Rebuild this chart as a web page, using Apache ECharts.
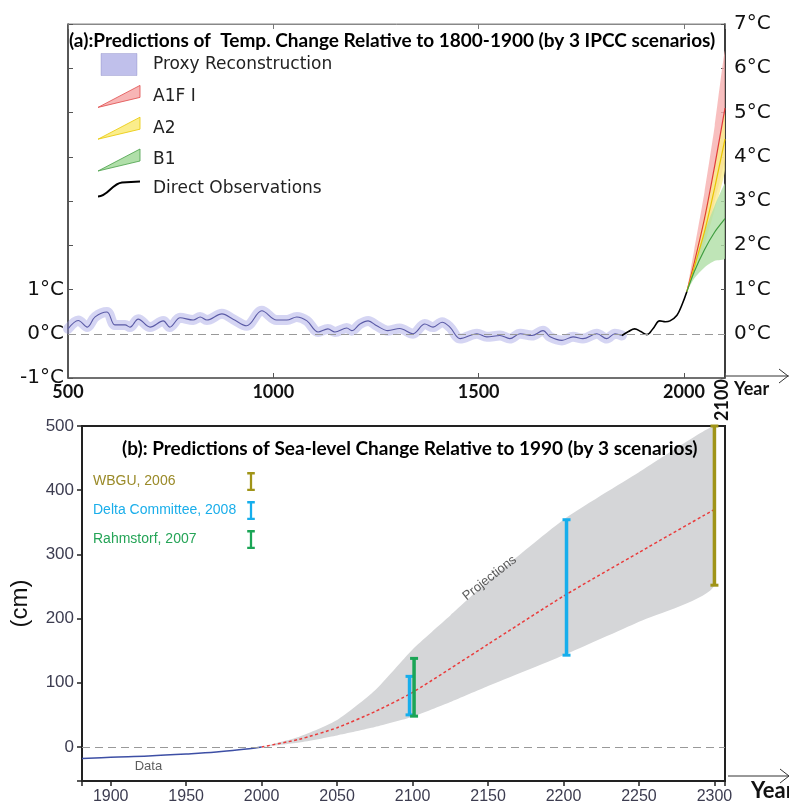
<!DOCTYPE html>
<html>
<head>
<meta charset="utf-8">
<title>Temperature and sea-level predictions</title>
<script src="https://cdn.jsdelivr.net/npm/echarts@6.0.0/dist/echarts.min.js"></script>
<style>
  html, body { margin: 0; padding: 0; background: #fff; }
  #chart { width: 789px; height: 806px; }
</style>
</head>
<body>
<div id="chart"></div>
<script>
// ---- (a) temperature change, degC relative to 1800-1900 ----
const proxyYears = [500, 525, 547, 566, 595, 614, 639, 651, 671, 700, 732, 748, 773, 805, 822, 838, 875, 902, 935, 972,
  1008, 1033, 1057, 1082, 1109, 1133, 1150, 1179, 1191, 1211, 1231, 1252, 1279, 1308, 1340, 1369, 1389, 1411, 1430,
  1455, 1496, 1520, 1552, 1576, 1601, 1630, 1657, 1674, 1703, 1730, 1754, 1788, 1812, 1832, 1849];
const proxyTemps = [0.11, 0.3, 0.15, 0.38, 0.49, 0.2, 0.2, 0.15, 0.33, 0.15, 0.29, 0.15, 0.36, 0.31, 0.38, 0.31, 0.45, 0.33, 0.18, 0.52,
  0.31, 0.31, 0.38, 0.29, 0.04, 0.11, 0.04, 0.13, 0.07, 0.22, 0.29, 0.18, 0.07, 0.12, 0, 0.22, 0.15, 0.26, 0.15,
  -0.11, 0, -0.07, -0.04, -0.11, 0, -0.04, 0.07, -0.07, -0.15, -0.07, -0.11, 0, -0.11, 0, -0.04];
const obsYears = [1849, 1865, 1880, 1895, 1910, 1925, 1941, 1955, 1966, 1983, 1995, 2007];
const obsTemps = [-0.04, 0.05, 0.11, 0.05, -0.02, 0.12, 0.29, 0.27, 0.29, 0.42, 0.65, 0.95];

const projYears = [2007, 2025, 2050, 2075, 2100];
const a1fiMid = [0.95, 1.6, 2.6, 3.8, 5.1];
const a1fiLow = [0.95, 1.4, 2.1, 3.0, 4.0];
const a1fiHigh = [0.95, 1.9, 3.2, 4.7, 6.4];
const a2Mid = [0.95, 1.5, 2.3, 3.3, 4.4];
const a2Low = [0.95, 1.35, 2.0, 2.8, 3.7];
const a2High = [0.95, 1.7, 2.7, 3.8, 5.0];
const b1Mid = [0.95, 1.4, 1.9, 2.3, 2.6];
const b1Low = [0.95, 1.25, 1.5, 1.65, 1.7];
const b1High = [0.95, 1.55, 2.3, 2.9, 3.4];

// ---- (b) sea-level change, cm relative to 1990 ----
const seaYears = [1881, 1900, 1925, 1950, 1970, 1985, 2000];
const seaCm = [-18, -16, -14, -11, -8, -4.5, 0];
const bandYears = [2000, 2025, 2050, 2075, 2100, 2125, 2150, 2200, 2250, 2300];
const bandLow = [0, 7, 18, 31, 47, 70, 95, 143, 195, 252];
const bandHigh = [0, 16, 42, 88, 152, 205, 258, 354, 428, 500];
const midYears = [2000, 2025, 2050, 2075, 2100, 2150, 2200, 2250, 2300];
const midCm = [0, 12, 30, 55, 85, 160, 235, 303, 370];
// [year, low, high]
const wbguBars = [[2300, 252, 500]];
const deltaBars = [[2098, 50, 110], [2202, 143, 354]];
const rahmBars = [[2101, 48, 138]];
const noteTexts = ['Data', 'Projections'];
const noteYears = [1925, 2151];
const noteCm = [-31, 263];
const noteRotate = [0, 38];

const SANS = 'Liberation Sans, Arial, sans-serif';
const WIDE = 'DejaVu Sans, sans-serif';
const BOLD = 'Lato, Open Sans, sans-serif';

function pairs(xs, ys) {
  return xs.map((x, i) => [x, ys[i]]);
}

// filled range between low and high, drawn once as a polygon through the axes
function band(name, years, low, high, fill, xi, yi, z) {
  return {
    name: name, type: 'custom', xAxisIndex: xi, yAxisIndex: yi, z: z, silent: true, clip: true,
    data: years.map((y, i) => [y, low[i], high[i]]),
    encode: { x: 0, y: [1, 2] },
    renderItem: function (params, api) {
      if (params.dataIndex !== 0) return null;
      const top = years.map((y, i) => api.coord([y, high[i]]));
      const bot = years.map((y, i) => api.coord([y, low[i]])).reverse();
      const pts = top.concat(bot);
      const xs = pts.map((p) => p[0]);
      const ys = pts.map((p) => p[1]);
      return {
        type: 'polygon',
        shape: {
          points: pts, smooth: 0.2,
          smoothConstraint: [[Math.min(...xs), Math.min(...ys)], [Math.max(...xs), Math.max(...ys)]],
        },
        style: { fill: fill },
      };
    },
  };
}

function errorBar(params, api) {
  const top = api.coord([api.value(0), api.value(2)]);
  const bot = api.coord([api.value(0), api.value(1)]);
  const color = api.visual('color');
  const cap = 4;
  return {
    type: 'group',
    children: [
      { type: 'line', shape: { x1: top[0], y1: top[1], x2: bot[0], y2: bot[1] }, style: { stroke: color, lineWidth: 3.5 } },
      { type: 'line', shape: { x1: top[0] - cap, y1: top[1], x2: top[0] + cap, y2: top[1] }, style: { stroke: color, lineWidth: 3 } },
      { type: 'line', shape: { x1: bot[0] - cap, y1: bot[1], x2: bot[0] + cap, y2: bot[1] }, style: { stroke: color, lineWidth: 3 } },
    ],
  };
}

const wedge = 'path://M0,22L42,0L42,12Z';
const ibeam = 'path://M0,0H8V2.5H5.2V17.5H8V20H0V17.5H2.8V2.5H0Z';

var myChart = echarts.init(document.getElementById('chart'));

var option = {
  animation: false,
  backgroundColor: '#fff',
  title: [
    {
      text: '(a):Predictions of  Temp. Change Relative to 1800-1900 (by 3 IPCC scenarios)',
      left: 64, top: 26,
      textStyle: { fontFamily: BOLD, fontWeight: 'bold', fontSize: 19, color: '#000' },
    },
    {
      text: '(b): Predictions of Sea-level Change Relative to 1990 (by 3 scenarios)',
      left: 117, top: 434,
      textStyle: { fontFamily: BOLD, fontWeight: 'bold', fontSize: 19, color: '#000' },
    },
  ],
  legend: [
    {
      orient: 'vertical', left: 92, top: 48, itemWidth: 42, itemHeight: 22, itemGap: 9,
      selectedMode: false,
      textStyle: { fontFamily: WIDE, fontSize: 17, color: '#222', padding: [0, 0, 0, 8] },
      data: [
        { name: 'Proxy Reconstruction', icon: 'path://M0,0H36V22H0Z', itemStyle: { color: 'rgba(130,130,215,0.5)', borderColor: 'rgba(90,90,170,0.25)', borderWidth: 1 } },
        { name: 'A1F I', icon: wedge, itemStyle: { color: 'rgba(243,150,150,0.7)', borderColor: '#e04a4a', borderWidth: 0.8 } },
        { name: 'A2', icon: wedge, itemStyle: { color: 'rgba(250,232,110,0.8)', borderColor: '#e8c800', borderWidth: 0.8 } },
        { name: 'B1', icon: wedge, itemStyle: { color: 'rgba(150,212,140,0.75)', borderColor: '#48a048', borderWidth: 0.8 } },
        { name: 'Direct Observations', icon: 'path://M0,18C10,18 14,5 24,4L42,3', itemStyle: { color: 'transparent', borderColor: '#000', borderWidth: 2 } },
      ],
    },
    {
      orient: 'vertical', left: 88, top: 467, itemWidth: 8, itemHeight: 19, itemGap: 10, align: 'right',
      selectedMode: false,
      formatter: (name) => '{t|' + name + '}',
      textStyle: { fontFamily: SANS, fontSize: 14, rich: { t: { width: 149, align: 'left', fontFamily: SANS, fontSize: 14 } } },
      data: [
        { name: 'WBGU, 2006', icon: ibeam, textStyle: { color: '#9a8a28' } },
        { name: 'Delta Committee, 2008', icon: ibeam, textStyle: { color: '#1aaeea' } },
        { name: 'Rahmstorf, 2007', icon: ibeam, textStyle: { color: '#25a457' } },
      ],
    },
  ],
  grid: [
    { left: 68, top: 24, width: 657, height: 354, show: true, borderColor: '#888', borderWidth: 1 },
    { left: 78, top: 426, width: 647, height: 355, show: true, borderColor: '#222', borderWidth: 2 },
  ],
  xAxis: [
    {
      type: 'value', gridIndex: 0, position: 'bottom', min: 500, max: 2100, interval: 500,
      axisLine: { onZero: false, lineStyle: { color: '#555', width: 1.5 } },
      axisTick: { inside: true, length: 5, lineStyle: { color: '#555' } },
      axisLabel: {
        fontFamily: BOLD, fontWeight: 'bold', fontSize: 18, color: '#111', margin: 5,
        formatter: (v) => (v % 500 === 0 ? String(v) : ''),
      },
      splitLine: { show: false },
    },
    {
      type: 'value', gridIndex: 0, position: 'top', min: 500, max: 2100, interval: 500,
      axisLine: { onZero: false, lineStyle: { color: '#888', width: 1 } },
      axisTick: { inside: true, length: 5, lineStyle: { color: '#777' } },
      axisLabel: { show: false },
      splitLine: { show: false },
    },
    {
      type: 'value', gridIndex: 1, position: 'bottom', min: 1881, max: 2307, splitNumber: 8,
      axisLine: { onZero: false, lineStyle: { color: '#222', width: 2 } },
      axisTick: { length: 5, lineStyle: { color: '#222', width: 1.5 } },
      axisLabel: {
        fontFamily: SANS, fontSize: 16, color: '#3c3c50', margin: 8,
        formatter: (v) => (v % 50 === 0 ? String(v) : ''),
      },
      splitLine: { show: false },
    },
  ],
  yAxis: [
    {
      type: 'value', gridIndex: 0, position: 'left', min: -1, max: 7, interval: 1,
      axisLine: { show: true, onZero: false, lineStyle: { color: '#333', width: 1.5 } },
      axisTick: { show: true, inside: true, length: 5, lineStyle: { color: '#555' } },
      axisLabel: {
        fontFamily: WIDE, fontSize: 20, color: '#111', margin: 4,
        formatter: (v) => (v <= 1 ? v + '°C' : ''),
      },
      splitLine: { show: false },
    },
    {
      type: 'value', gridIndex: 0, position: 'right', min: -1, max: 7, interval: 1,
      axisLine: { show: true, onZero: false, lineStyle: { color: '#111', width: 1.5 } },
      axisTick: { show: true, inside: true, length: 4, lineStyle: { color: '#555' } },
      axisLabel: {
        fontFamily: WIDE, fontSize: 20, color: '#111', margin: 9,
        formatter: (v) => (v >= 0 ? v + '°C' : ''),
      },
      splitLine: { show: false },
    },
    {
      type: 'value', gridIndex: 1, position: 'left', min: -53, max: 500, splitNumber: 5,
      name: '(cm)', nameLocation: 'middle', nameRotate: 90, nameGap: 50,
      nameTextStyle: { fontFamily: SANS, fontSize: 24, color: '#111' },
      axisLine: { show: true, onZero: false, lineStyle: { color: '#222', width: 2 } },
      axisTick: { show: true, length: 5, lineStyle: { color: '#222', width: 1.5 } },
      axisLabel: {
        fontFamily: SANS, fontSize: 17, color: '#3c3c50', margin: 8,
        formatter: (v) => (v % 100 === 0 ? String(v) : ''),
      },
      splitLine: { show: false },
    },
  ],
  series: [
    // (a) projections, red under yellow under green
    band('a1fi-range', projYears, a1fiLow, a1fiHigh, 'rgba(246,175,175,0.8)', 0, 0, 2),
    band('a2-range', projYears, a2Low, a2High, 'rgba(250,238,140,0.8)', 0, 0, 2),
    band('b1-range', projYears, b1Low, b1High, 'rgba(175,222,165,0.8)', 0, 0, 2),
    {
      name: 'A1F I', type: 'line', xAxisIndex: 0, yAxisIndex: 0, data: pairs(projYears, a1fiMid),
      symbol: 'none', smooth: 0.2, z: 3, lineStyle: { color: '#e03a3a', width: 1.2 }, itemStyle: { color: '#e03a3a' },
    },
    {
      name: 'A2', type: 'line', xAxisIndex: 0, yAxisIndex: 0, data: pairs(projYears, a2Mid),
      symbol: 'none', smooth: 0.2, z: 3, lineStyle: { color: '#e8c400', width: 1.2 }, itemStyle: { color: '#e8c400' },
    },
    {
      name: 'B1', type: 'line', xAxisIndex: 0, yAxisIndex: 0, data: pairs(projYears, b1Mid),
      symbol: 'none', smooth: 0.2, z: 3, lineStyle: { color: '#3f9d3f', width: 1.2 }, itemStyle: { color: '#3f9d3f' },
    },
    // (a) proxy band drawn as a wide translucent stroke, centre line on top
    {
      name: 'proxy-band', type: 'line', xAxisIndex: 0, yAxisIndex: 0, data: pairs(proxyYears, proxyTemps),
      symbol: 'none', smooth: 0.35, z: 2, silent: true,
      lineStyle: { color: 'rgba(150,150,225,0.4)', width: 10, join: 'round', cap: 'round' },
      markLine: {
        silent: true, symbol: 'none', label: { show: false },
        lineStyle: { color: '#999', type: [8, 5], width: 1.2 },
        data: [{ yAxis: 0 }],
      },
    },
    {
      name: 'Proxy Reconstruction', type: 'line', xAxisIndex: 0, yAxisIndex: 0, data: pairs(proxyYears, proxyTemps),
      symbol: 'none', smooth: 0.35, z: 3, lineStyle: { color: '#5a5aa6', width: 1.1 }, itemStyle: { color: '#5a5aa6' },
    },
    {
      name: 'Direct Observations', type: 'line', xAxisIndex: 0, yAxisIndex: 0, data: pairs(obsYears, obsTemps),
      symbol: 'none', smooth: 0.4, z: 4, lineStyle: { color: '#000', width: 1.6 }, itemStyle: { color: '#000' },
    },
    // (b) sea level
    band('projection-range', bandYears, bandLow, bandHigh, '#d5d6d8', 2, 2, 2),
    {
      name: 'Projection', type: 'line', xAxisIndex: 2, yAxisIndex: 2, data: pairs(midYears, midCm),
      symbol: 'none', smooth: 0.2, z: 3, lineStyle: { color: '#ea3b3b', width: 1.5, type: [3, 2.5] },
    },
    {
      name: 'Data line', type: 'line', xAxisIndex: 2, yAxisIndex: 2, data: pairs(seaYears, seaCm),
      symbol: 'none', smooth: 0.4, z: 3, lineStyle: { color: '#3d4fa5', width: 1.5 },
      markLine: {
        silent: true, symbol: 'none', label: { show: false },
        lineStyle: { color: '#999', type: [8, 5], width: 1.2 },
        data: [{ yAxis: 0 }],
      },
    },
    {
      name: 'notes', type: 'scatter', xAxisIndex: 2, yAxisIndex: 2, symbolSize: 1, z: 5, silent: true,
      itemStyle: { color: 'rgba(0,0,0,0)' },
      data: noteTexts.map((t, i) => ({
        value: [noteYears[i], noteCm[i]],
        label: { show: true, position: 'inside', formatter: t, rotate: noteRotate[i], fontFamily: SANS, fontSize: 13, color: '#333' },
      })),
    },
    {
      name: 'WBGU, 2006', type: 'custom', xAxisIndex: 2, yAxisIndex: 2, renderItem: errorBar, clip: false, z: 6,
      itemStyle: { color: '#a09418' }, encode: { x: 0, y: [1, 2] }, data: wbguBars,
    },
    {
      name: 'Delta Committee, 2008', type: 'custom', xAxisIndex: 2, yAxisIndex: 2, renderItem: errorBar, clip: false, z: 6,
      itemStyle: { color: '#16aeec' }, encode: { x: 0, y: [1, 2] }, data: deltaBars,
    },
    {
      name: 'Rahmstorf, 2007', type: 'custom', xAxisIndex: 2, yAxisIndex: 2, renderItem: errorBar, clip: false, z: 7,
      itemStyle: { color: '#1ba556' }, encode: { x: 0, y: [1, 2] }, data: rahmBars,
    },
  ],
  graphic: [
    {
      type: 'text', x: 722, y: 400, rotation: Math.PI / 2,
      style: { text: '2100', fontFamily: BOLD, fontWeight: 'bold', fontSize: 18, fill: '#111', align: 'center', verticalAlign: 'middle' },
    },
    {
      type: 'text', x: 734, y: 389,
      style: { text: 'Year', fontFamily: BOLD, fontWeight: 'bold', fontSize: 18, fill: '#111', align: 'left', verticalAlign: 'middle' },
    },
    { type: 'polyline', shape: { points: [[726, 376], [789, 376]] }, style: { stroke: '#333', lineWidth: 1 } },
    { type: 'polyline', shape: { points: [[779, 369], [788, 376], [779, 383]] }, style: { stroke: '#333', fill: null, lineWidth: 1 } },
    {
      type: 'text', x: 751, y: 791,
      style: { text: 'Year', fontFamily: BOLD, fontWeight: 'bold', fontSize: 22, fill: '#111', align: 'left', verticalAlign: 'middle' },
    },
    { type: 'polyline', shape: { points: [[728, 776], [789, 776]] }, style: { stroke: '#333', lineWidth: 1 } },
    { type: 'polyline', shape: { points: [[780, 769], [789, 776], [780, 783]] }, style: { stroke: '#333', fill: null, lineWidth: 1 } },
  ],
};

myChart.setOption(option);
</script>
</body>
</html>
